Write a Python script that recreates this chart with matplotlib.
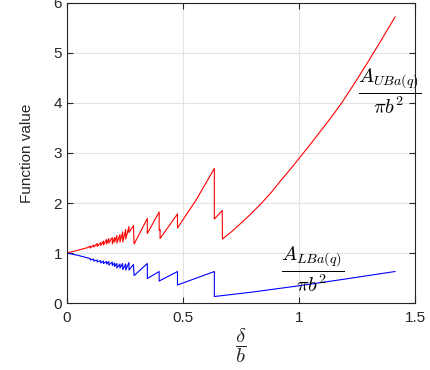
import matplotlib
matplotlib.use("Agg")
import matplotlib.pyplot as plt

plt.rcParams['font.family'] = ['Liberation Sans', 'DejaVu Sans']
plt.rcParams['mathtext.fontset'] = 'cm'

# Upper bound curve vertices (delta/b, value)
ub_x = [0.0, 0.05, 0.09, 0.10, 0.10, 0.115, 0.115, 0.13, 0.13, 0.145, 0.145,
        0.157, 0.157, 0.17, 0.17, 0.18, 0.18, 0.195, 0.195, 0.205, 0.205,
        0.215, 0.215, 0.228, 0.228, 0.24, 0.24, 0.253, 0.253, 0.267, 0.267,
        0.286, 0.289, 0.346, 0.346, 0.397, 0.397, 0.401, 0.401, 0.476, 0.476,
        0.555, 0.635, 0.635, 0.669, 0.670, 0.71, 0.753, 0.79, 0.839, 0.88,
        0.92, 0.96, 1.0, 1.05, 1.1, 1.14, 1.184, 1.25, 1.30, 1.35, 1.414]
ub_y = [1.0, 1.06, 1.11, 1.14, 1.10, 1.16, 1.12, 1.19, 1.13, 1.21, 1.15,
        1.24, 1.16, 1.27, 1.18, 1.29, 1.20, 1.31, 1.18, 1.31, 1.22,
        1.35, 1.20, 1.37, 1.22, 1.42, 1.22, 1.47, 1.28, 1.53, 1.41,
        1.55, 1.18, 1.69, 1.39, 1.82, 1.45, 1.47, 1.29, 1.78, 1.50,
        2.05, 2.69, 1.68, 1.85, 1.28, 1.43, 1.61, 1.77, 2.00, 2.21,
        2.44, 2.66, 2.89, 3.18, 3.48, 3.72, 4.00, 4.47, 4.84, 5.22, 5.72]

# Lower bound curve vertices
lb_x = [0.0, 0.05, 0.09, 0.10, 0.10, 0.115, 0.115, 0.13, 0.13, 0.145, 0.145,
        0.157, 0.157, 0.17, 0.17, 0.18, 0.18, 0.195, 0.195, 0.205, 0.205,
        0.215, 0.215, 0.228, 0.228, 0.24, 0.24, 0.253, 0.253, 0.267, 0.267,
        0.286, 0.289, 0.346, 0.346, 0.397, 0.397, 0.476, 0.476, 0.635, 0.635,
        0.8, 1.0, 1.2, 1.414]
lb_y = [1.0, 0.95, 0.90, 0.89, 0.86, 0.88, 0.84, 0.86, 0.82, 0.85, 0.80,
        0.84, 0.79, 0.83, 0.78, 0.83, 0.76, 0.82, 0.75, 0.80, 0.73,
        0.79, 0.70, 0.78, 0.70, 0.79, 0.67, 0.78, 0.66, 0.81, 0.66,
        0.77, 0.55, 0.79, 0.49, 0.63, 0.44, 0.63, 0.36, 0.63, 0.13,
        0.22, 0.345, 0.48, 0.63]

x_ticks = [0, 0.5, 1, 1.5]
x_tick_labels = ['0', '0.5', '1', '1.5']
y_ticks = [0, 1, 2, 3, 4, 5, 6]

fig = plt.figure(figsize=(4.3, 3.7), dpi=100)
ax = fig.add_axes([0.156, 0.181, 0.809, 0.811])

ax.plot(ub_x, ub_y, color='#ff0000', lw=0.8)
ax.plot(lb_x, lb_y, color='#0000ff', lw=0.8)

ax.set_xlim(0, 1.5)
ax.set_ylim(0, 6)
ax.set_xticks(x_ticks)
ax.set_xticklabels(x_tick_labels)
ax.set_yticks(y_ticks)
ax.grid(True, color='#e3e3e3', lw=0.8)
ax.set_axisbelow(True)

dark = '#262626'
for s in ax.spines.values():
    s.set_color(dark)
    s.set_linewidth(0.8)
ax.tick_params(direction='in', length=4, width=0.8, colors=dark,
               labelsize=11, top=True, right=True, labelcolor=dark)
ax.tick_params(axis='x', pad=6)

ax.set_ylabel('Function value', fontsize=11, color=dark, labelpad=14)
ax.set_xlabel(r'$\dfrac{\delta}{b}$', fontsize=15, color=dark, labelpad=1)

ax.text(1.39, 4.23, r'$\dfrac{A_{UBa(q)}}{\pi b^2}$', fontsize=14.5,
        ha='center', va='center', color='black')
ax.text(1.06, 0.68, r'$\dfrac{A_{LBa(q)}}{\pi b^2}$', fontsize=14.5,
        ha='center', va='center', color='black')

fig.savefig('out.png', dpi=100)
